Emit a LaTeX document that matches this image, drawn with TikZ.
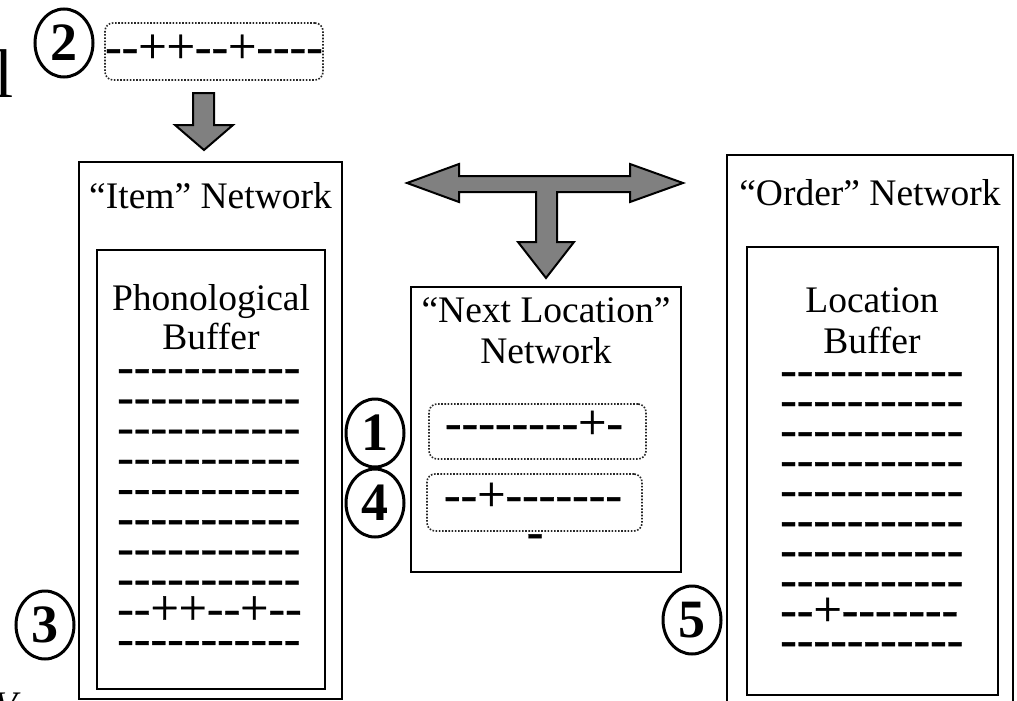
\documentclass[tikz,border=0pt]{standalone}
\usepackage{fontspec}
\setmainfont{Liberation Serif}
\newfontfamily\dashfont{Liberation Serif}[FakeBold=0.6]
\usetikzlibrary{shapes.geometric}
\definecolor{arrowgray}{RGB}{128,128,128}
\tikzset{
  box/.style={draw=black, line width=2.5pt, rectangle, inner sep=0pt},
  lbl/.style={font=\fontsize{37.5}{40}\selectfont, inner sep=0pt, anchor=base},
  dsh/.style={font=\dashfont\fontsize{50}{50}\selectfont, inner sep=0pt, anchor=base},
  dshw/.style={dsh, anchor=base west},
  num/.style={draw=black, ellipse, line width=3pt, minimum width=58pt, minimum height=68pt,
    inner sep=0pt, font=\bfseries\fontsize{54}{54}\selectfont},
  dotbox/.style={draw=black!85, line width=1.6pt, dash pattern=on 1.6pt off 1.6pt,
    rounded corners=8pt, rectangle, inner sep=0pt},
  blockarrow/.style={fill=arrowgray, draw=black, line width=2pt, line join=miter}
}
\begin{document}
\begin{tikzpicture}[x=1pt,y=-1pt]
\useasboundingbox (0,0) rectangle (1017,701);
\clip (0,0) rectangle (1017,701);
\fill[white] (0,0) rectangle (1017,701);

% fragments at the left edge
\node[font=\fontsize{69}{69}\selectfont, inner sep=0pt, anchor=base east] (fragl) at (14,97) {l};
\node[font=\itshape\fontsize{37.5}{40}\selectfont, inner sep=0pt, anchor=north west] (fragv) at (-6,693) {V};

% top input pattern
\node[num] (c2) at (64,43) {2};
\node[dotbox, minimum width=218pt, minimum height=57pt] (inbox) at (214,51.5) {};
\node[dsh] (intext) at (214,63) {--++--+----};
\draw[blockarrow] (193,93) -- (214,93) -- (214,125) -- (233,125) -- (204,150) -- (175,125) -- (193,125) -- cycle;

% Item network
\node[box, minimum width=263pt, minimum height=537pt] (item) at (210.5,430.5) {};
\node[lbl] (itemt) at (210.5,208) {“Item” Network};
\node[box, minimum width=228pt, minimum height=439pt] (phon) at (211,469.5) {};
\node[lbl] (phon1) at (211,310) {Phonological};
\node[lbl] (phon2) at (211,349) {Buffer};
\foreach \k in {0,...,7} {
  \node[dshw] (pl\k) at (117,383+30.2*\k) {-----------};
}
\node[dshw] (pl8) at (117,383+30.2*8) {--++--+--};
\node[dshw] (pl9) at (117,383+30.2*9) {-----------};
\node[num] (c3) at (45,625) {3};

% T-shaped arrow
\draw[blockarrow] (407,183) -- (459,164) -- (459,176) -- (630,176) -- (630,164) -- (683,183)
  -- (630,202) -- (630,192) -- (557,192) -- (557,242) -- (574,242) -- (546,278)
  -- (518,242) -- (536,242) -- (536,192) -- (459,192) -- (459,202) -- cycle;

% Next Location network
\node[box, minimum width=270pt, minimum height=285pt] (next) at (546,429.5) {};
\node[lbl] (nextt1) at (546,322) {“Next Location”};
\node[lbl] (nextt2) at (546,363) {Network};
\node[dotbox, minimum width=217pt, minimum height=55pt] (nb1) at (537.5,431.5) {};
\node[dsh] (nt1) at (534,439) {--------+-};
\node[dotbox, minimum width=215pt, minimum height=57pt] (nb2) at (534.5,502.5) {};
\node[dsh] (nt2) at (533,511) {--+-------};
\node[dsh] (nt3) at (535,548) {-};
\node[num] (c1) at (375,433) {1};
\node[num] (c4) at (375,503) {4};

% Order network
\node[box, minimum width=286pt, minimum height=557pt] (order) at (870,433.5) {};
\node[lbl] (ordert) at (870,205) {“Order” Network};
\node[box, minimum width=251pt, minimum height=448pt] (loc) at (872.5,471) {};
\node[lbl] (loc1) at (872,312) {Location};
\node[lbl] (loc2) at (872,353) {Buffer};
\foreach \k in {0,...,7} {
  \node[dshw] (ol\k) at (780,386+30*\k) {-----------};
}
\node[dshw] (ol8) at (780,386+30*8) {--+-------};
\node[dshw] (ol9) at (780,386+30*9) {-----------};
\node[num] (c5) at (692,620) {5};
\end{tikzpicture}
\end{document}
